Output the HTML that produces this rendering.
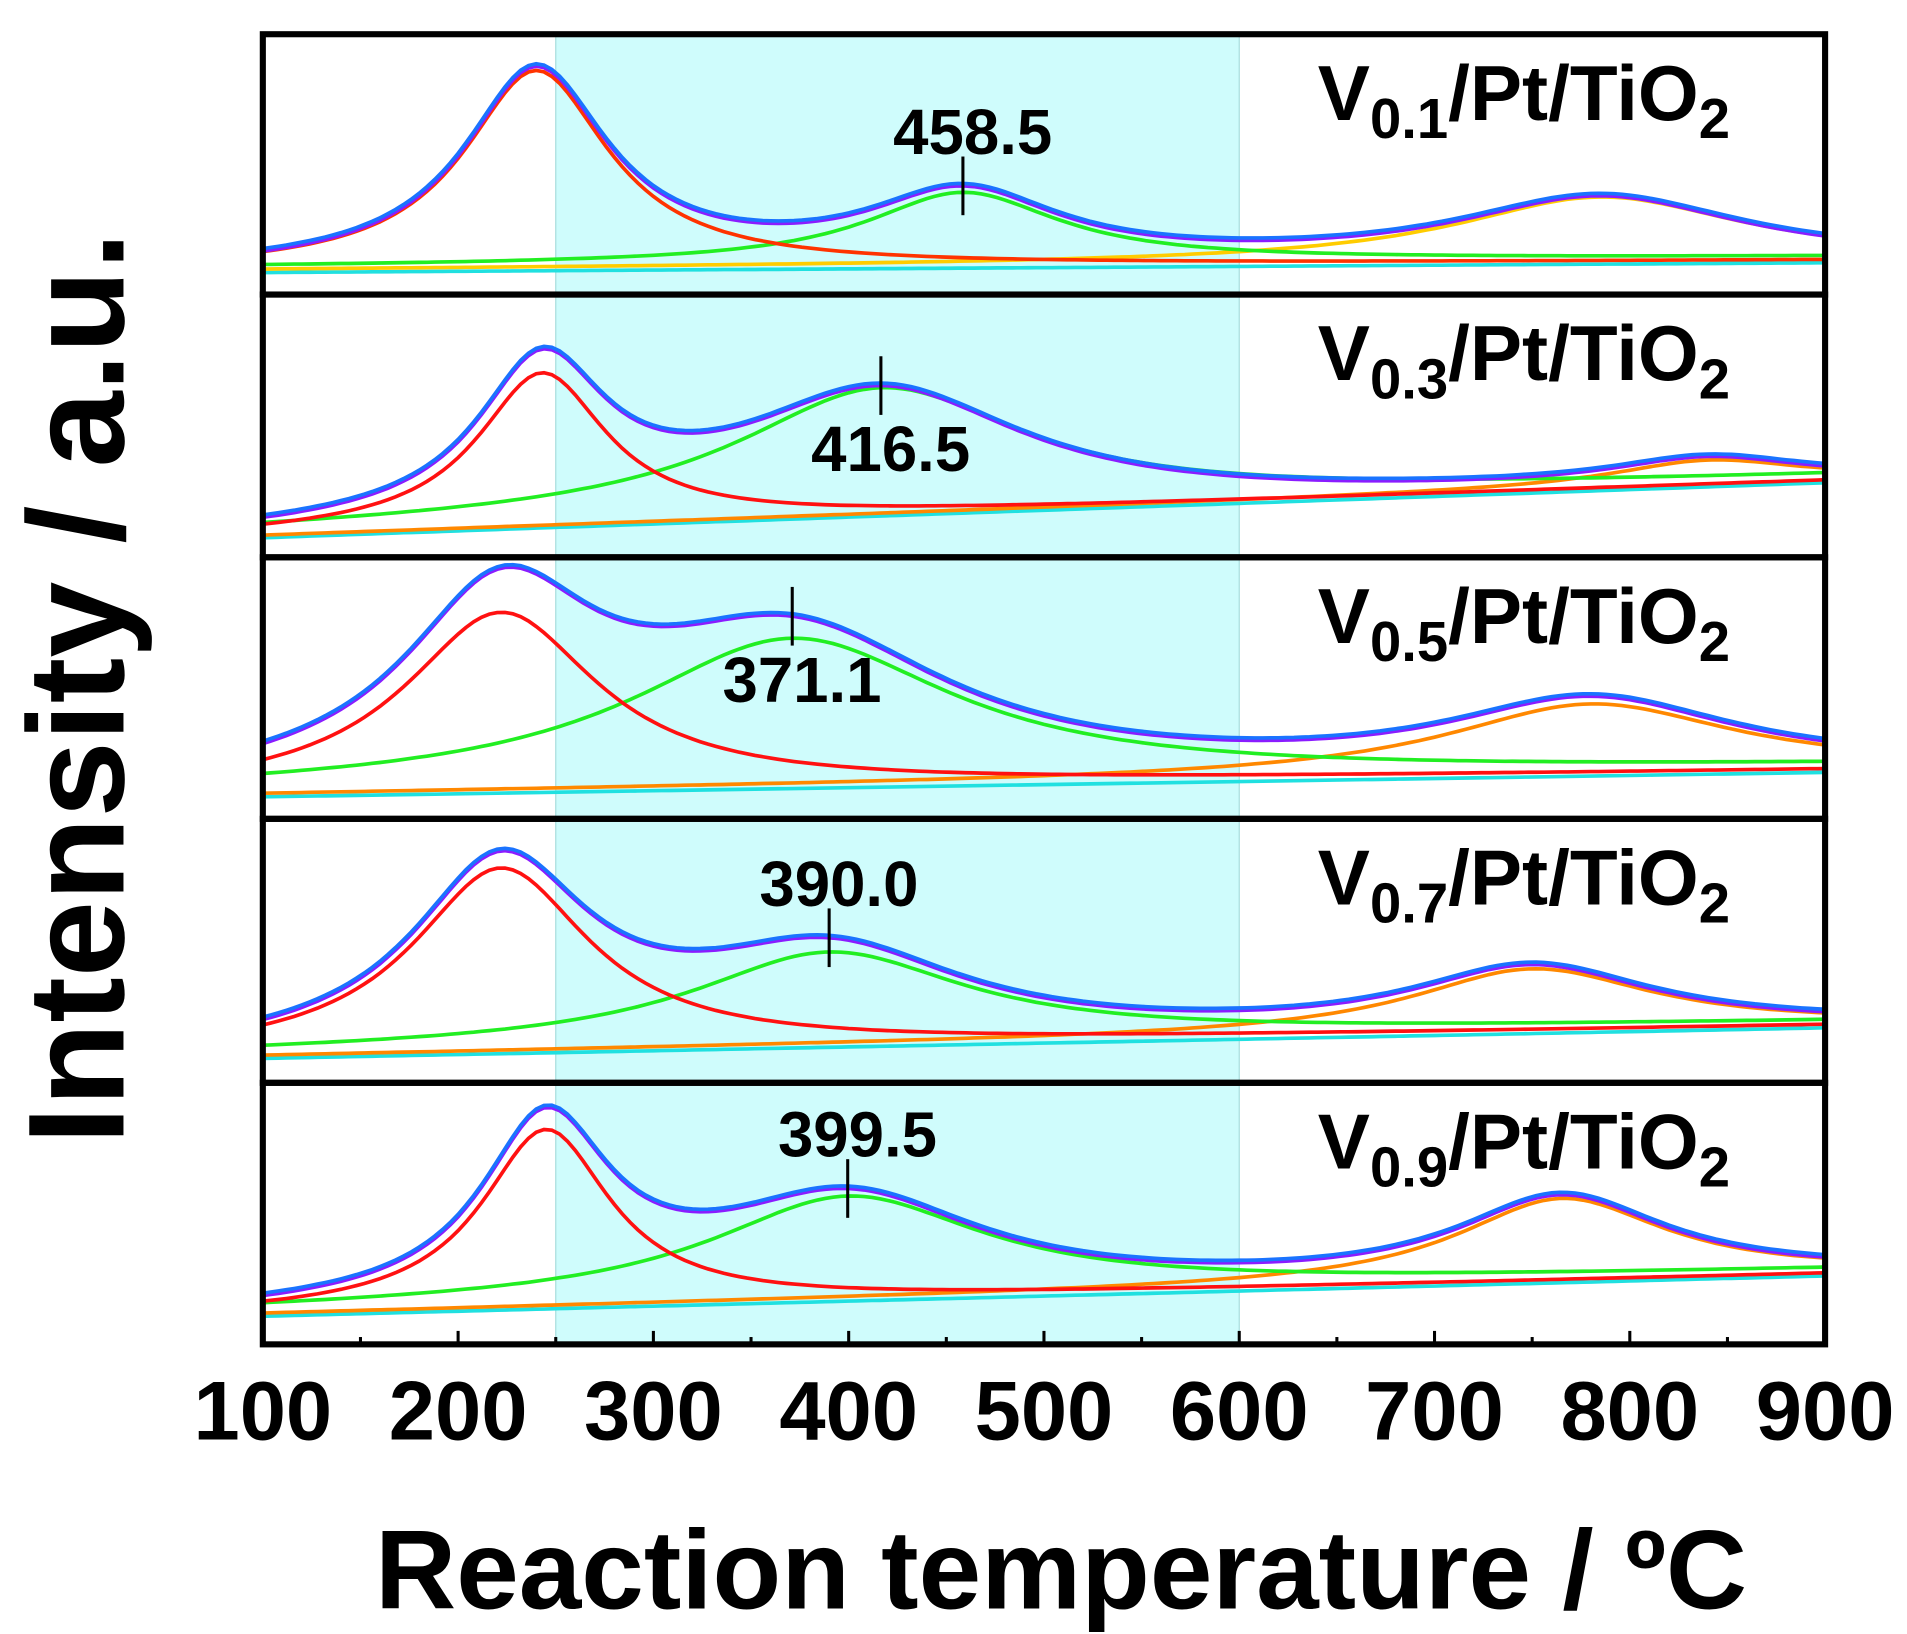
<!DOCTYPE html>
<html><head><meta charset="utf-8">
<style>html,body{margin:0;padding:0;background:#fff;}svg{display:block;}</style></head>
<body>
<svg id="chart" width="1907" height="1634" viewBox="0 0 1560 1337" preserveAspectRatio="none" xmlns="http://www.w3.org/2000/svg" font-family="'Liberation Sans', Arial, sans-serif" font-weight="bold">
<rect width="1560" height="1337" fill="#fff"/>
<g id="plots"></g>
<text x="868" y="1316" font-size="92" text-anchor="middle">Reaction temperature / ºC</text>
<text transform="translate(101,563) rotate(-90)" font-size="112" text-anchor="middle">Intensity / a.u.</text>
</svg>
<script>
const samples = ["0.1","0.3","0.5","0.7","0.9"];
const panelTops = [28,241,456,670,886];
const panelBottoms = [241,456,670,886,1100];
const baseStart = [20,18,20,22,25];
const baseEnd = [28,63,40,47,58];
const redCenter = [240,243,222,222,245];
const redAmp = [162,125,146,150,145];
const redHw = [45,40,60,55,40];
const greenCenter = [458.5,416.5,371.1,390.0,399.5];
const greenAmp = [57,100,118,73,81];
const greenHw = [60,90,100,85,85];
const hiCenter = [785,840,780,750,765];
const hiAmp = [53,20,57,51,67];
const hiHw = [90,60,90,75,65];
const peakLabels = ["458.5","416.5","371.1","390.0","399.5"];
const labelAbove = [true,false,false,true,true];
const xTicks = [100,200,300,400,500,600,700,800,900];

const X0=215, X1=1493;
const xs = t => X0 + (t-100)/800*(X1-X0);
const NS="http://www.w3.org/2000/svg";
const root=document.getElementById('plots');
function mk(tag,attrs,parent){const e=document.createElementNS(NS,tag);for(const k in attrs)e.setAttribute(k,attrs[k]);(parent||root).appendChild(e);return e;}
const lor=(t,c,a,w)=>a/(1+Math.pow((t-c)/w,2));

const band=mk('rect',{x:xs(250),y:panelTops[0],width:xs(600)-xs(250),height:1100-panelTops[0],fill:'#cffcfc',stroke:'#a8dede','stroke-width':1});



samples.forEach((s,i)=>{
  const top=panelTops[i], bot=panelBottoms[i];
  const ys=v=>bot-v;
  const g=mk('g',{});
  
  
  const base=t=>baseStart[i]+(baseEnd[i]-baseStart[i])*(t-100)/800;
  const comps={
    red:t=>base(t)+lor(t,redCenter[i],redAmp[i],redHw[i]),
    green:t=>base(t)+3+lor(t,greenCenter[i],greenAmp[i],greenHw[i]),
    hi:t=>base(t)+lor(t,hiCenter[i],hiAmp[i],hiHw[i]),
    base:t=>base(t)-2,
    fit:t=>base(t)+lor(t,redCenter[i],redAmp[i],redHw[i])+lor(t,greenCenter[i],greenAmp[i],greenHw[i])+lor(t,hiCenter[i],hiAmp[i],hiHw[i])
  };
  const path=f=>{let d='';for(let t=100;t<=900;t+=4){d+=(t==100?'M':'L')+xs(t).toFixed(1)+','+ys(f(t)).toFixed(1);}return d;};
  const lines=[['base','#20e0e0','baseline'],['hi',i==0?'#ffcc00':'#ff8800','peak-high-temp'],['green','#22ee22','peak-mid-temp'],['red',i==0?'#ff3300':'#ff1111','peak-low-temp']];
  lines.forEach(([k,c,n])=>{const p=mk('path',{d:path(comps[k]),fill:'none',stroke:c,'stroke-width':3},g);
    });
  const pe=mk('path',{d:path(t=>comps.fit(t)-2),fill:'none',stroke:'#8a1cff','stroke-width':3},g);
  
  const pf=mk('path',{d:path(comps.fit),fill:'none',stroke:'#1a73ff','stroke-width':3},g);
  
  const px=xs(greenCenter[i]), py=ys(comps.fit(greenCenter[i]));
  const mkr=mk('line',{x1:px,x2:px,y1:py-22,y2:py+26,stroke:'#000','stroke-width':2.5},g);
  
  const lt=mk('text',{x:px+8,y:labelAbove[i]?py-24:py+72,'font-size':52,'text-anchor':'middle'},g);
  lt.textContent=peakLabels[i];
  
  const sl=mk('text',{x:1078,y:top+70,'font-size':64},g);
  
  sl.innerHTML='V<tspan font-size="46" dy="15">'+s+'</tspan><tspan dy="-15">/Pt/TiO</tspan><tspan font-size="46" dy="15">2</tspan>';
  const fr=mk('rect',{x:X0,y:top,width:X1-X0,height:bot-top,fill:'none',stroke:'#000','stroke-width':5},g);
  
});

for(let t=100;t<=900;t+=50){
  const major=t%100==0;
  const tk=mk('line',{x1:xs(t),x2:xs(t),y1:1100,y2:1100-(major?11:6),stroke:'#000','stroke-width':2.5});
  
}
xTicks.forEach(t=>{
  const tl=mk('text',{x:xs(t),y:1178,'font-size':68,'text-anchor':'middle'});
  tl.textContent=t;
  
});
</script>
</body></html>
